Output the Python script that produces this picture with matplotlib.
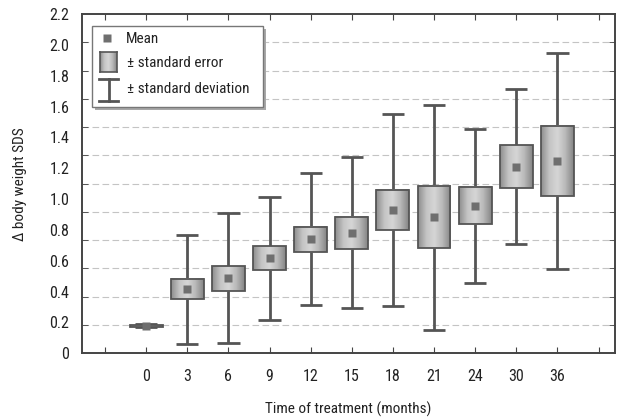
import numpy as np
import matplotlib.pyplot as plt
from matplotlib import font_manager
from matplotlib.colors import LinearSegmentedColormap
from matplotlib.patches import Rectangle
from matplotlib.lines import Line2D

# pick a condensed sans if one is installed
installed = {f.name for f in font_manager.fontManager.ttflist}
narrow = [n for n in ['Liberation Sans Narrow', 'Arial Narrow', 'Roboto Condensed', 'PT Sans Narrow',
                      'Archivo Narrow', 'Fira Sans Condensed', 'IBM Plex Sans Condensed',
                      'Open Sans Condensed', 'Encode Sans Condensed', 'DejaVu Sans Condensed']
          if n in installed]
plt.rcParams['font.family'] = narrow[:1] + ['Liberation Sans', 'DejaVu Sans']

# data (values in y-label units)
months = ['0', '3', '6', '9', '12', '15', '18', '21', '24', '30', '36']
mean = [0.179, 0.414, 0.486, 0.616, 0.740, 0.782, 0.930, 0.882, 0.956, 1.211, 1.247]
se = [0.006, 0.065, 0.080, 0.077, 0.082, 0.105, 0.131, 0.202, 0.120, 0.138, 0.230]
sd = [0.009, 0.353, 0.421, 0.399, 0.428, 0.490, 0.621, 0.731, 0.499, 0.503, 0.698]
ytick_labels = ['0', '0.2', '0.4', '0.6', '0.8', '1.0', '1.2', '1.4', '1.6', '1.8', '2.0', '2.2']

W, H = 617, 419
fig = plt.figure(figsize=(W / 100, H / 100), dpi=100)
ax = fig.add_axes([82 / W, 1 - 353.3 / H, (615 - 82) / W, (353.3 - 14) / H])

dark = '#555555'
shade = LinearSegmentedColormap.from_list('shade', ['#8e8e8e', '#c4c4c4', '#d6d6d6', '#b8b8b8', '#858585'])
grad = np.linspace(0, 1, 64).reshape(1, -1)

box_w = 0.8
cap_w = 0.54
for i, (m, s, d) in enumerate(zip(mean, se, sd)):
    ax.imshow(grad, extent=[i - box_w / 2, i + box_w / 2, m - s, m + s],
              aspect='auto', cmap=shade, zorder=3, interpolation='bilinear')
    ax.add_patch(Rectangle((i - box_w / 2, m - s), box_w, 2 * s, fill=False,
                           ec=dark, lw=1.3, zorder=4))
    ax.vlines(i, m + s, m + d, color=dark, lw=2, zorder=2)
    ax.vlines(i, m - d, m - s, color=dark, lw=2, zorder=2)
    ax.hlines([m - d, m + d], i - cap_w / 2, i + cap_w / 2, color=dark, lw=2, zorder=2)
    ax.plot(i, m, 's', ms=5.5, color='#6f6f6f', mec='none', zorder=5)

ax.set_xlim(-1.56, 11.4)
ax.set_ylim(0, 2.2)

ax.set_xticks(range(-1, 12))
ax.set_xticklabels([''] + months + [''])
ax.set_yticks(np.linspace(0, 2.2, 12))
ax.set_yticklabels(ytick_labels)
ax.set_yticks(np.linspace(0, 2.2, 13), minor=True)

ax.tick_params(axis='y', which='major', length=0, pad=9, labelsize=11.5, colors='#222222')
ax.tick_params(axis='y', which='minor', direction='in', length=4, left=True, right=True, color='#444444')
ax.tick_params(axis='x', which='major', direction='in', length=4, top=True, pad=11,
               labelsize=11.5, color='#444444', labelcolor='#222222')
ax.grid(which='minor', axis='y', color='#c4c4c4', lw=0.8, ls=(0, (6, 3)))
for sp in ax.spines.values():
    sp.set_color('#444444')
    sp.set_linewidth(1.4)

ax.set_xlabel('Time of treatment (months)', fontsize=11, labelpad=13, color='#222222')
ax.set_ylabel('\u0394 body weight SDS', fontsize=11, labelpad=16, color='#222222')

# legend, drawn by hand in figure pixels
def fx(x):
    return x / W

def fy(y):
    return 1 - y / H

fig.add_artist(Rectangle((fx(95), fy(110)), fx(171), 81 / H, transform=fig.transFigure,
                         fc='#a8a8a8', ec='none', zorder=10))
fig.add_artist(Rectangle((fx(92), fy(107)), fx(171), 81 / H, transform=fig.transFigure,
                         fc='white', ec='#777777', lw=1, zorder=11))
fig.add_artist(Line2D([fx(107)], [fy(38)], marker='s', ms=5.5, color='#6f6f6f', mec='none',
                      transform=fig.transFigure, zorder=12))
fig.text(fx(126), fy(39), 'Mean', fontsize=11, va='center', color='#222222', zorder=12)

sw = fig.add_axes([fx(100), fy(72), fx(17), 20 / H], zorder=12)
sw.imshow(grad, aspect='auto', cmap=shade, interpolation='bilinear')
sw.set_xticks([])
sw.set_yticks([])
for sp in sw.spines.values():
    sp.set_color(dark)
    sp.set_linewidth(1.2)
fig.text(fx(127), fy(63), '\u00b1 standard error', fontsize=11, va='center', color='#222222', zorder=12)

for xs, ys in [([108.5, 108.5], [79, 101]), ([99, 118], [79, 79]), ([99, 118], [101, 101])]:
    fig.add_artist(Line2D([fx(v) for v in xs], [fy(v) for v in ys], color=dark, lw=2,
                          transform=fig.transFigure, zorder=12))
fig.text(fx(127), fy(89), '\u00b1 standard deviation', fontsize=11, va='center', color='#222222', zorder=12)

fig.savefig('out.png', dpi=100)
